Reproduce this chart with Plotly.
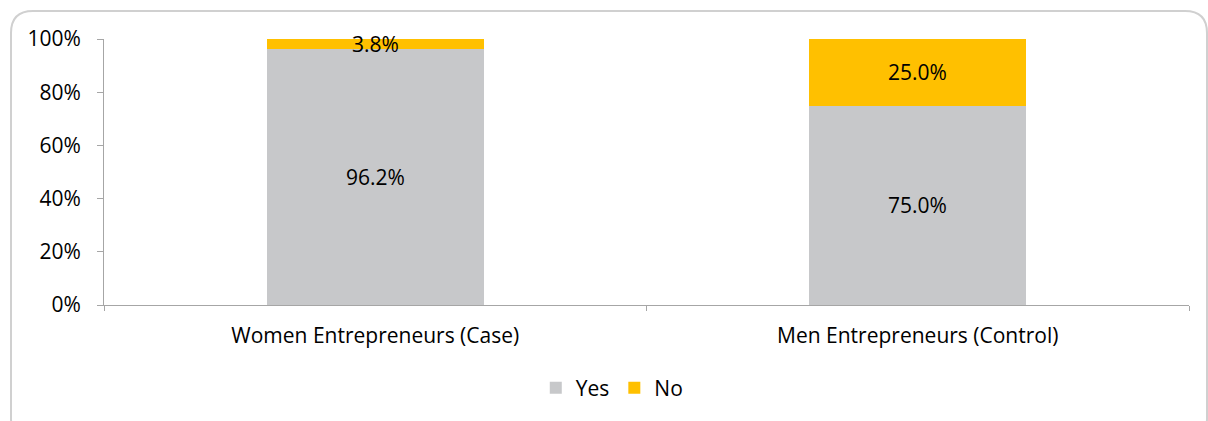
import plotly.graph_objects as go

categories = ["Women Entrepreneurs (Case)", "Men Entrepreneurs (Control)"]
yes_pct = [96.2, 75.0]
no_pct = [3.8, 25.0]
y_ticks = [0, 20, 40, 60, 80, 100]

W, H = 1208, 421
L, R, T, B = 104, 19, 39, 116
PW, PH = W - L - R, H - T - B

FONT = "Open Sans"
FS = 21
GRAY = "#C7C8CA"
GOLD = "#FFC000"
AXIS = "#A6A6A6"

fig = go.Figure()
fig.add_trace(go.Bar(name="Yes", x=categories, y=yes_pct, marker_color=GRAY,
                     marker_line_width=0, width=0.4))
fig.add_trace(go.Bar(name="No", x=categories, y=no_pct, marker_color=GOLD,
                     marker_line_width=0, width=0.4))

# segment labels centred on each stacked segment
annotations = []
for i, cat in enumerate(categories):
    annotations.append(dict(x=cat, y=yes_pct[i] / 2, text=f"{yes_pct[i]:.1f}%",
                            showarrow=False, xref="x", yref="y",
                            font=dict(family=FONT, size=FS, color="#000")))
    annotations.append(dict(x=cat, y=yes_pct[i] + no_pct[i] / 2, text=f"{no_pct[i]:.1f}%",
                            showarrow=False, xref="x", yref="y",
                            font=dict(family=FONT, size=FS, color="#000")))


def px_to_paper(px, py):
    return (px - L) / PW, (H - B - py) / PH


# rounded outer frame
x0, y0, x1, y1, r = 11, 11, 1207, 440, 22
pts = {
    "a": px_to_paper(x0, y0 + r), "b": px_to_paper(x0, y0), "c": px_to_paper(x0 + r, y0),
    "d": px_to_paper(x1 - r, y0), "e": px_to_paper(x1, y0), "f": px_to_paper(x1, y0 + r),
    "g": px_to_paper(x1, y1 - r), "h": px_to_paper(x1, y1), "i": px_to_paper(x1 - r, y1),
    "j": px_to_paper(x0 + r, y1), "k": px_to_paper(x0, y1), "l": px_to_paper(x0, y1 - r),
}
def p(k):
    return f"{pts[k][0]:.5f},{pts[k][1]:.5f}"
frame = (f"M {p('a')} Q {p('b')} {p('c')} L {p('d')} Q {p('e')} {p('f')} "
         f"L {p('g')} Q {p('h')} {p('i')} L {p('j')} Q {p('k')} {p('l')} Z")

fig.update_layout(
    barmode="stack",
    width=W, height=H,
    margin=dict(l=L, r=R, t=T, b=B, pad=0),
    paper_bgcolor="white", plot_bgcolor="white",
    font=dict(family=FONT, size=FS, color="#000"),
    bargap=0.6,
    showlegend=True,
    legend=dict(orientation="h", x=0.468, xanchor="center", y=-0.235, yanchor="top",
                font=dict(family=FONT, size=FS), itemwidth=30, traceorder="normal"),
    annotations=annotations,
    shapes=[dict(type="path", path=frame, xref="paper", yref="paper",
                 line=dict(color="#D0D0D0", width=2), layer="below")],
    xaxis=dict(type="category", tickson="boundaries", ticks="outside", ticklen=5,
               tickcolor=AXIS, showline=True, linecolor=AXIS, linewidth=1,
               showgrid=False, tickfont=dict(family=FONT, size=FS), ticklabelstandoff=12),
    yaxis=dict(range=[0, 100], tickvals=y_ticks, ticktext=[f"{v}%" for v in y_ticks],
               ticks="outside", ticklen=6, tickcolor=AXIS, showline=True, linecolor=AXIS,
               linewidth=1, showgrid=False, zeroline=False, ticklabelstandoff=12,
               tickfont=dict(family=FONT, size=FS)),
)

fig.write_html("out.html")
